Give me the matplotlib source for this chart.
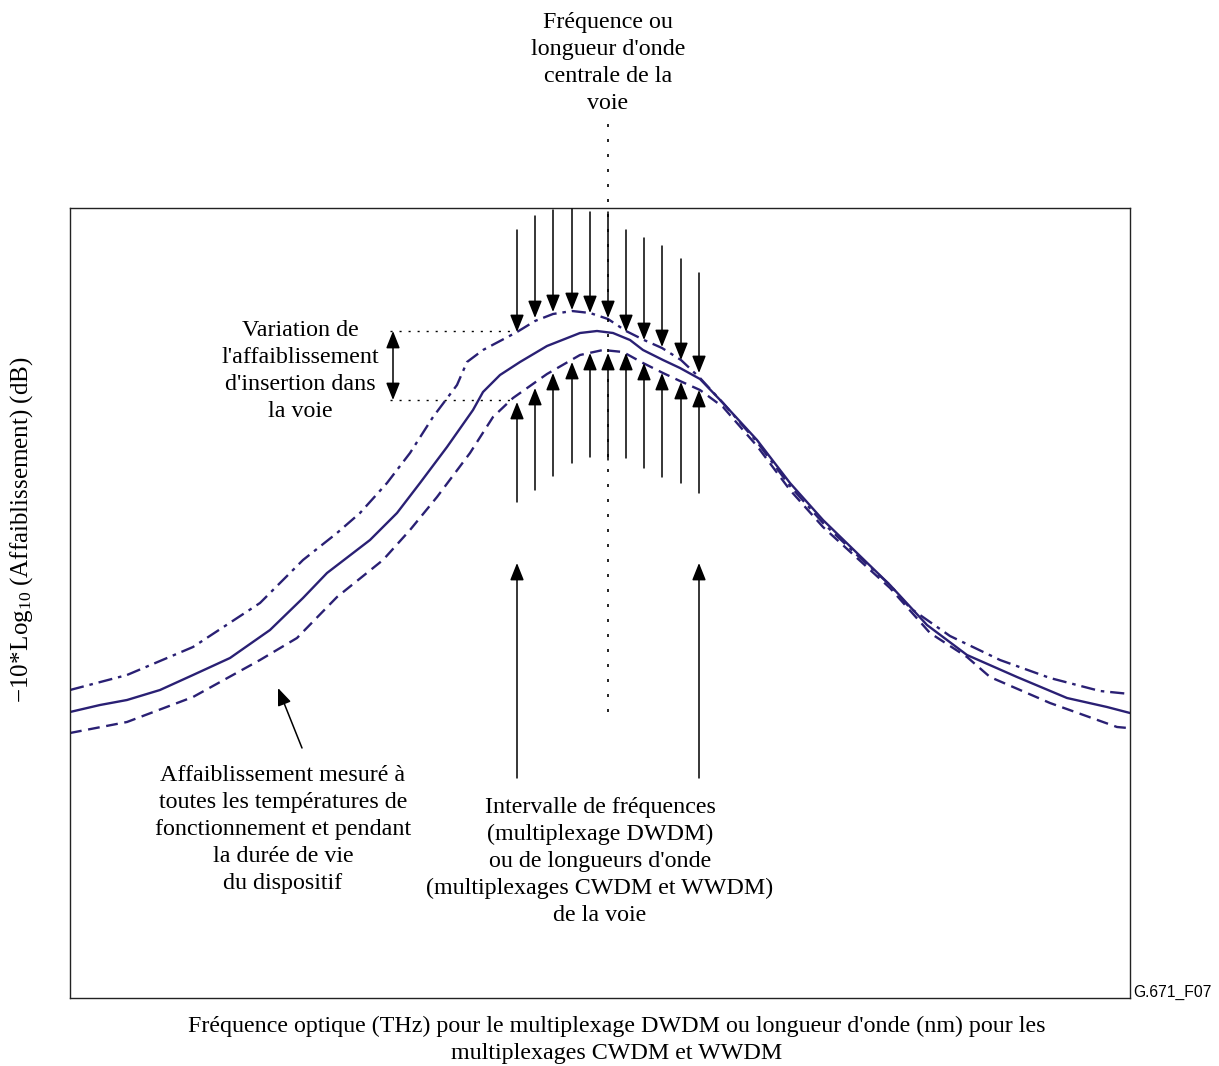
import matplotlib
matplotlib.use("Agg")
import matplotlib.pyplot as plt
import numpy as np

plt.rcParams["mathtext.fontset"] = "custom"
plt.rcParams["mathtext.rm"] = "Liberation Serif"
plt.rcParams["mathtext.it"] = "Liberation Serif:italic"

# ---- data (arbitrary units: x = optical frequency, y = -10*log10(attenuation)) ----
solid_x = [0, 30, 57, 90, 123, 160, 190, 200, 233, 257, 300, 327, 350, 377, 403, 413, 430, 450, 477,
           510, 527, 543, 560, 573, 593, 610, 630, 653, 687, 720, 753, 787, 820, 857, 897, 947, 997, 1037, 1060]
solid_y = [286, 293, 298, 308, 323, 340, 361, 368, 400, 425, 458, 485, 515, 551, 588, 606, 623, 636, 652,
           665, 667, 665, 658, 648, 638, 630, 619, 595, 558, 515, 478, 445, 413, 373, 343, 321, 300, 291, 285]

upper_x = [0, 57, 123, 190, 233, 267, 290, 317, 340, 363, 387, 397, 413, 447, 465, 483, 502, 520, 538,
           556, 574, 592, 611, 630, 653, 687, 720, 753, 787, 820, 840, 880, 930, 980, 1030, 1060]
upper_y = [308, 323, 351, 395, 438, 465, 485, 515, 545, 581, 613, 636, 648, 666, 677, 684, 687, 685, 679,
           667, 658, 650, 638, 620, 595, 556, 512, 475, 443, 413, 390, 362, 338, 320, 307, 304]

lower_x = [0, 57, 123, 190, 227, 267, 313, 340, 367, 400, 423, 443, 477, 510, 533, 553, 573, 593, 610,
           630, 653, 687, 720, 753, 787, 820, 860, 897, 920, 980, 1047, 1058]
lower_y = [265, 276, 301, 338, 360, 401, 438, 468, 501, 545, 581, 600, 624, 643, 648, 646, 635, 625, 617,
           608, 591, 552, 508, 471, 440, 410, 365, 341, 321, 295, 271, 270]

# channel arrows
arrow_x = [447, 465, 483, 502, 520, 538, 556, 574, 592, 611, 629]
down_top = [768, 782, 788, 789, 786, 786, 768, 760, 752, 739, 725]
down_tip = [666, 680, 686, 688, 685, 680, 666, 658, 651, 638, 625]
up_bottom = [496, 508, 522, 535, 541, 538, 540, 530, 521, 515, 505]
up_tip = [596, 610, 625, 636, 645, 645, 645, 635, 625, 616, 608]

band_x = [447, 629]           # channel frequency range limits
band_y = (220, 435)
center_x = 538                # channel central frequency
var_levels = [667, 598]       # insertion loss variation levels
var_x = 323

navy = "#2a2074"
serif = ["Liberation Serif", "DejaVu Serif"]

W, H = 1219, 1066
fig = plt.figure(figsize=(W / 100, H / 100), dpi=100)
ax = fig.add_axes([70 / W, (H - 998) / H, 1060 / W, 790 / H])
ax.set_xlim(0, 1060)
ax.set_ylim(0, 790)
ax.set_xticks([])
ax.set_yticks([])
for s in ax.spines.values():
    s.set_linewidth(1.0)
    s.set_color("#222222")

ax.plot(solid_x, solid_y, color=navy, lw=1.7, solid_joinstyle="round")
ax.plot(upper_x, upper_y, color=navy, lw=1.7, dashes=(6, 2.5, 1.5, 2.5))
ax.plot(lower_x, lower_y, color=navy, lw=1.7, dashes=(5, 2.8))

head = "-|>,head_length=0.5,head_width=0.2"
aprops = dict(arrowstyle=head, mutation_scale=21, lw=1.1, color="black", shrinkA=0, shrinkB=0)

for x, t0, t1 in zip(arrow_x, down_top, down_tip):
    ax.annotate("", xy=(x, t1), xytext=(x, t0), arrowprops=aprops)
for x, b0, b1 in zip(arrow_x, up_bottom, up_tip):
    ax.annotate("", xy=(x, b1), xytext=(x, b0), arrowprops=aprops)
for x in band_x:
    ax.annotate("", xy=(x, band_y[1]), xytext=(x, band_y[0]), arrowprops=aprops)

# double arrow (variation)
dprops = dict(arrowstyle="<|-|>,head_length=0.5,head_width=0.2", mutation_scale=21, lw=1.1,
              color="black", shrinkA=0, shrinkB=0)
ax.annotate("", xy=(var_x, var_levels[0]), xytext=(var_x, var_levels[1]), arrowprops=dprops)
for lv in var_levels:
    ax.plot([var_x - 3, 445], [lv, lv], color="black", lw=1.0, dashes=(1.5, 5))

# center dotted line
ax.plot([center_x, center_x], [286, 876], color="black", lw=1.2, dashes=(1.8, 7.2), clip_on=False)

# annotation arrow to curves
ax.annotate("", xy=(208, 310), xytext=(232, 250), arrowprops=aprops)

# texts
def ft(x, y, s, **kw):
    fig.text(x / W, 1 - y / H, s, fontfamily=serif, fontsize=17.3, ha="center", va="top",
             linespacing=1.37, **kw)

ft(608, 12, "Fréquence ou\nlongueur d'onde\ncentrale de la\nvoie")
ft(300, 320, "Variation de\nl'affaiblissement\nd'insertion dans\nla voie")
ft(283, 765, "Affaiblissement mesuré à\ntoutes les températures de\nfonctionnement et pendant\nla durée de vie\ndu dispositif")
ft(600, 797, "Intervalle de fréquences\n(multiplexage DWDM)\nou de longueurs d'onde\n(multiplexages CWDM et WWDM)\nde la voie")
ft(617, 1016, "Fréquence optique (THz) pour le multiplexage DWDM ou longueur d'onde (nm) pour les\nmultiplexages CWDM et WWDM")

fig.text(22 / W, 1 - 530 / H, r"$\mathrm{-10\!*\!Log_{10}\ (Affaiblissement)\ (dB)}$", fontsize=18,
         rotation=90, ha="center", va="center")
fig.text(1133 / W, 1 - 992 / H, "G.671_F07", fontfamily=["Liberation Sans", "DejaVu Sans"], fontsize=11.3,
         ha="left", va="center")

fig.savefig("out.png", dpi=100)
